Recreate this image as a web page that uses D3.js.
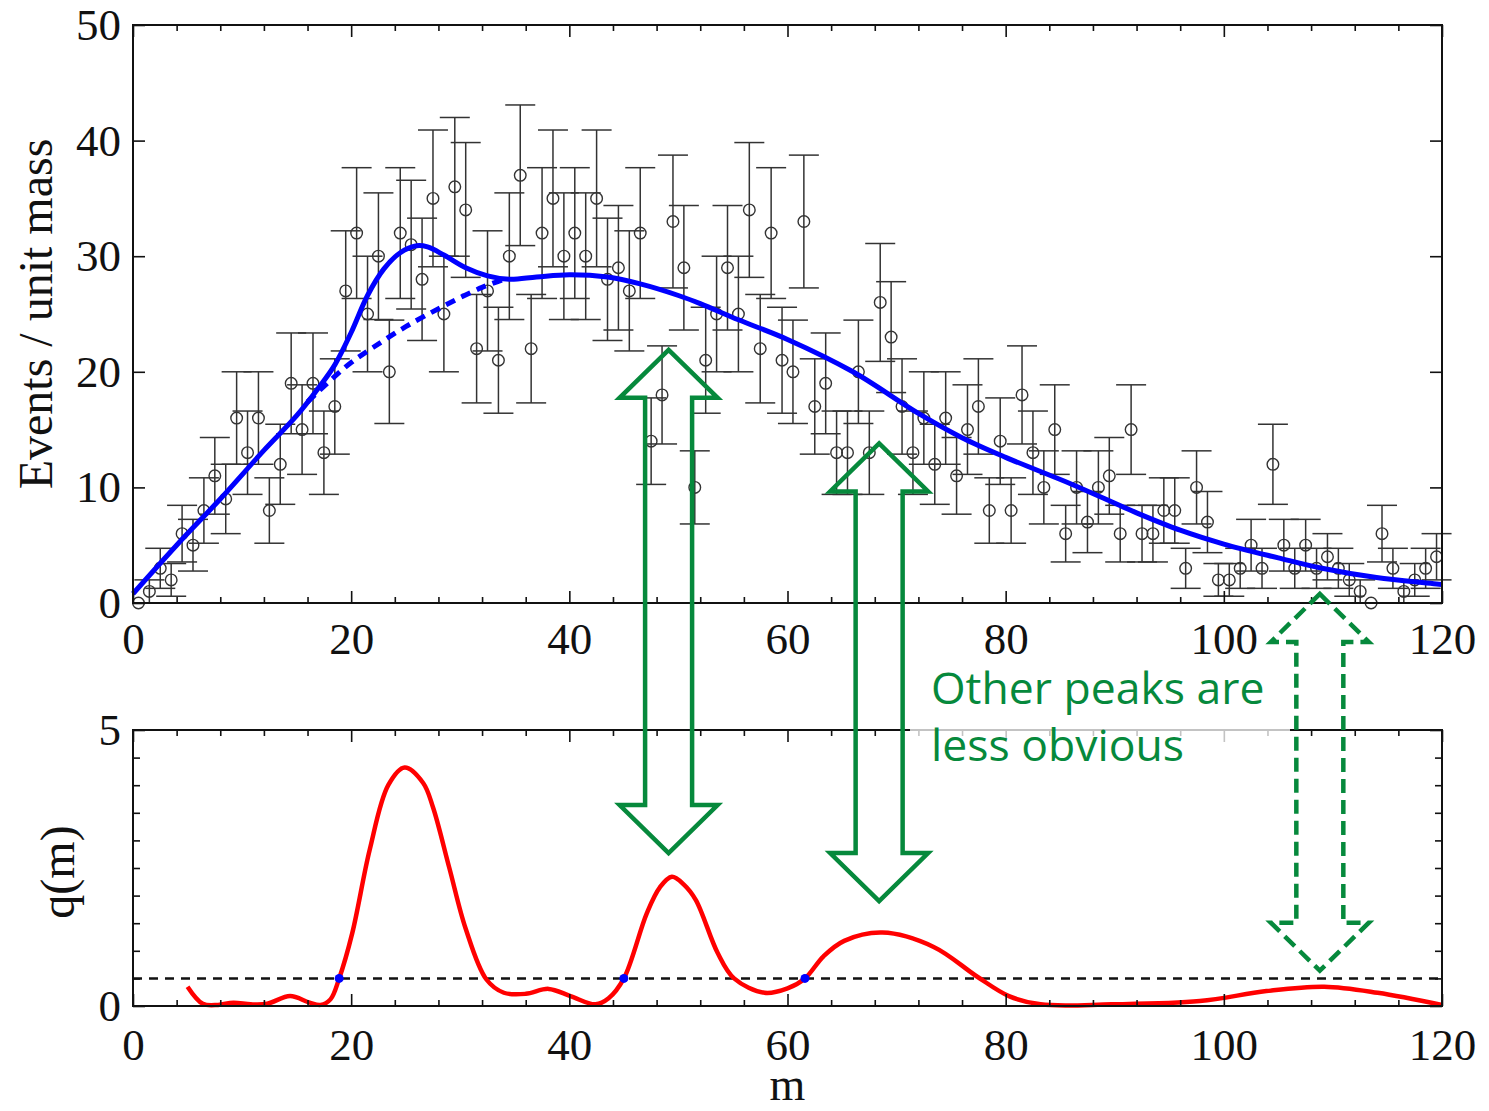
<!DOCTYPE html>
<html>
<head>
<meta charset="utf-8">
<script src="https://cdn.jsdelivr.net/npm/d3@7"></script>
<style>
  body { margin: 0; background: #fff; }
  svg { display: block; }
  .tick text { font-family: "Liberation Serif", "Times New Roman", serif; font-size: 45px; fill: #111; }
  .tick line { stroke: #111; stroke-width: 1.6; }
</style>
</head>
<body>
<div id="chart"></div>
<script>

// events per unit mass, one bin per unit of m (bins centred on m + 0.5)
var counts = [0, 1, 3, 2, 6, 5, 8, 11, 9, 16,
  13, 16, 8, 12, 19, 15, 19, 13, 17, 27,
  32, 25, 30, 20, 32, 31, 28, 35, 25, 36,
  34, 22, 27, 21, 30, 37, 22, 32, 35, 30,
  32, 30, 35, 28, 29, 27, 32, 14, 18, 33,
  29, 10, 21, 25, 29, 25, 34, 22, 32, 21,
  20, 33, 17, 19, 13, 13, 20, 13, 26, 23,
  17, 13, 16, 12, 16, 11, 15, 17, 8, 14,
  8, 18, 13, 10, 15, 6, 10, 7, 10, 11,
  6, 15, 6, 6, 8, 8, 3, 10, 7, 2,
  2, 3, 5, 3, 12, 5, 3, 5, 3, 4,
  3, 2, 1, 0, 6, 3, 1, 2, 3, 4];

// full fit (solid blue)
var fitMass = [0, 4, 8, 12, 15, 17, 18.5, 20, 21.5, 23, 24.5, 26, 27, 28.5, 30.5, 32.5, 34.5, 37, 40,
  43.5, 46.5, 50, 52, 55.5, 60, 66, 72, 76, 80, 86, 92, 96, 100, 105, 109, 114, 120];
var fitEvents = [0.8, 5.0, 9.0, 13.2, 16.2, 18.6, 20.6, 23.4, 26.6, 28.9, 30.3, 30.9, 30.8, 30.1, 29.0, 28.3, 28.0, 28.2, 28.4,
  28.2, 27.6, 26.6, 25.9, 24.5, 22.8, 20.0, 16.4, 14.3, 12.6, 10.3, 7.8, 6.3, 5.1, 3.9, 3.0, 2.2, 1.6];

// background only (dashed blue)
var bkgMass = [16, 17, 18.5, 20, 22, 25, 28.5, 32, 34];
var bkgEvents = [17.4, 18.3, 19.6, 20.8, 22.1, 23.9, 25.7, 27.3, 28.0];

// q(m) curve (red)
var qMass = [5, 6.4, 7.8, 9.2, 10.8, 12.3, 14.4, 16.2, 17.2, 18.1, 18.9, 20.1, 21.7, 23.4, 24.9, 26.6, 27.5, 29, 30.5, 32.4,
  34, 36, 38.1, 40.1, 42.4, 43.6, 45, 47.1, 48.3, 49.4, 50.5, 51.6, 53.6, 55.1, 57.9, 60, 61.6, 63.3, 65.2, 68.7, 73.4,
  77.4, 80.3, 83.2, 89.7, 97.8, 103.9, 109.2, 114.1, 120];
var qValues = [0.35, 0.04, 0.02, 0.06, 0.03, 0.04, 0.18, 0.06, 0.02, 0.12, 0.5, 1.32, 2.83, 4.0, 4.32, 4.04, 3.6, 2.5, 1.4, 0.48,
  0.24, 0.22, 0.31, 0.18, 0.03, 0.14, 0.5, 1.68, 2.15, 2.34, 2.2, 1.92, 0.96, 0.5, 0.24, 0.32, 0.5, 0.9, 1.18, 1.33, 1.07,
  0.53, 0.18, 0.03, 0.03, 0.09, 0.27, 0.35, 0.24, 0.02];
var qThreshold = 0.5;
var crossMass = [18.9, 45.0, 61.6];

// ticks
var massTicks = [0, 20, 40, 60, 80, 100, 120];
var eventTicks = [0, 10, 20, 30, 40, 50];
var qTicks = [0, 5];

// green arrows: centre mass, tip in upper panel (events), tip in lower panel (q)
var arrowMass = [49.1, 68.4, 108.8];
var arrowTopTip = [21.9, 13.8, 0.78];
var arrowLowTip = [2.77, 1.9, 0.64];
var arrowDashed = [false, false, true];
var noteLines = ["Other peaks are", "less obvious"];

var width = 1489, height = 1111;
var left = 133, right = 1442;
var upper = {top: 25, bottom: 603};
var lower = {top: 730, bottom: 1006};
var green = "#06893c";

var x = d3.scaleLinear().domain([0, 120]).range([left, right]);
var yUp = d3.scaleLinear().domain([0, 50]).range([upper.bottom, upper.top]);
var yLow = d3.scaleLinear().domain([0, 5]).range([lower.bottom, lower.top]);

var svg = d3.select("#chart").append("svg")
    .attr("width", width)
    .attr("height", height);

var minorMass = d3.range(0, 121, 4).filter(function(d) { return d % 20 != 0; });

function drawAxes(yScale, panel, yMajor, yMinor, labelPad) {
    var g = svg.append("g");

    // bottom edge, labelled
    g.append("g")
        .attr("transform", "translate(0," + panel.bottom + ")")
        .call(d3.axisBottom(x).tickValues(massTicks).tickSize(-12).tickSizeOuter(0)
            .tickPadding(labelPad).tickFormat(d3.format("d")));
    g.append("g")
        .attr("transform", "translate(0," + panel.bottom + ")")
        .call(d3.axisBottom(x).tickValues(minorMass).tickSize(-6).tickFormat(""));

    // top edge, ticks only
    g.append("g")
        .attr("transform", "translate(0," + panel.top + ")")
        .call(d3.axisTop(x).tickValues(massTicks).tickSize(-12).tickFormat(""));
    g.append("g")
        .attr("transform", "translate(0," + panel.top + ")")
        .call(d3.axisTop(x).tickValues(minorMass).tickSize(-6).tickFormat(""));

    // left and right edges
    g.append("g")
        .attr("transform", "translate(" + left + ",0)")
        .call(d3.axisLeft(yScale).tickValues(yMajor).tickSize(-12).tickPadding(12).tickFormat(d3.format("d")));
    g.append("g")
        .attr("transform", "translate(" + right + ",0)")
        .call(d3.axisRight(yScale).tickValues(yMajor).tickSize(-12).tickFormat(""));
    if (yMinor) {
        g.append("g")
            .attr("transform", "translate(" + left + ",0)")
            .call(d3.axisLeft(yScale).tickValues(yMinor).tickSize(-7).tickFormat(""));
        g.append("g")
            .attr("transform", "translate(" + right + ",0)")
            .call(d3.axisRight(yScale).tickValues(yMinor).tickSize(-7).tickFormat(""));
    }
    g.selectAll(".domain").remove();

    svg.append("rect")
        .attr("x", left)
        .attr("y", panel.top)
        .attr("width", right - left)
        .attr("height", panel.bottom - panel.top)
        .attr("fill", "none")
        .attr("stroke", "#111")
        .attr("stroke-width", 2);
}

// ---------- upper panel ----------
var bins = counts.map(function(n, i) { return {m: i + 0.5, n: n}; });

var points = svg.append("g").attr("class", "points");
var withErr = points.selectAll("g.err")
    .data(bins.filter(function(d) { return d.n > 0; }))
  .enter().append("g")
    .attr("class", "err")
    .attr("stroke", "#333")
    .attr("stroke-width", 1.5);

withErr.append("line")
    .attr("x1", function(d) { return x(d.m); })
    .attr("x2", function(d) { return x(d.m); })
    .attr("y1", function(d) { return yUp(d.n - Math.sqrt(d.n)); })
    .attr("y2", function(d) { return yUp(d.n + Math.sqrt(d.n)); });
withErr.append("line")
    .attr("x1", function(d) { return x(d.m) - 15; })
    .attr("x2", function(d) { return x(d.m) + 15; })
    .attr("y1", function(d) { return yUp(d.n + Math.sqrt(d.n)); })
    .attr("y2", function(d) { return yUp(d.n + Math.sqrt(d.n)); });
withErr.append("line")
    .attr("x1", function(d) { return x(d.m) - 15; })
    .attr("x2", function(d) { return x(d.m) + 15; })
    .attr("y1", function(d) { return yUp(d.n - Math.sqrt(d.n)); })
    .attr("y2", function(d) { return yUp(d.n - Math.sqrt(d.n)); });

points.selectAll("circle")
    .data(bins)
  .enter().append("circle")
    .attr("cx", function(d) { return x(d.m); })
    .attr("cy", function(d) { return yUp(d.n); })
    .attr("r", 5.8)
    .attr("fill", "none")
    .attr("stroke", "#333")
    .attr("stroke-width", 1.4);

var upLine = d3.line()
    .x(function(d) { return x(d[0]); })
    .y(function(d) { return yUp(d[1]); })
    .curve(d3.curveCatmullRom.alpha(0.5));

svg.append("path")
    .attr("d", upLine(d3.zip(bkgMass, bkgEvents)))
    .attr("fill", "none")
    .attr("stroke", "#0000ff")
    .attr("stroke-width", 5)
    .attr("stroke-dasharray", "10,7");

svg.append("path")
    .attr("d", upLine(d3.zip(fitMass, fitEvents)))
    .attr("fill", "none")
    .attr("stroke", "#0000ff")
    .attr("stroke-width", 5);

drawAxes(yUp, upper, eventTicks, null, 19);

svg.append("text")
    .attr("transform", "translate(52," + ((upper.top + upper.bottom) / 2) + ") rotate(-90)")
    .attr("text-anchor", "middle")
    .style("font-family", "'Liberation Serif', serif")
    .style("font-size", "48px")
    .attr("fill", "#111")
    .text("Events / unit mass");

// ---------- lower panel ----------
svg.append("line")
    .attr("x1", left)
    .attr("x2", right)
    .attr("y1", yLow(qThreshold))
    .attr("y2", yLow(qThreshold))
    .attr("stroke", "#111")
    .attr("stroke-width", 2.5)
    .attr("stroke-dasharray", "9,7");

var lowLine = d3.line()
    .x(function(d) { return x(d[0]); })
    .y(function(d) { return yLow(d[1]); })
    .curve(d3.curveCatmullRom.alpha(0.5));

svg.append("path")
    .attr("d", lowLine(d3.zip(qMass, qValues)))
    .attr("fill", "none")
    .attr("stroke", "#ff0000")
    .attr("stroke-width", 4.5);

svg.selectAll("circle.cross")
    .data(crossMass)
  .enter().append("circle")
    .attr("class", "cross")
    .attr("cx", function(d) { return x(d); })
    .attr("cy", yLow(qThreshold))
    .attr("r", 4.5)
    .attr("fill", "#0000ff");

drawAxes(yLow, lower, qTicks, d3.range(0.5, 5, 0.5), 22);

svg.append("text")
    .attr("transform", "translate(74," + ((lower.top + lower.bottom) / 2 + 4) + ") rotate(-90)")
    .attr("text-anchor", "middle")
    .style("font-family", "'Liberation Serif', serif")
    .style("font-size", "48px")
    .attr("fill", "#111")
    .text("q(m)");

svg.append("text")
    .attr("x", x(60))
    .attr("y", 1100)
    .attr("text-anchor", "middle")
    .style("font-family", "'Liberation Serif', serif")
    .style("font-size", "46px")
    .attr("fill", "#111")
    .text("m");

// ---------- annotations ----------
function arrowPath(cx, tipA, tipB, shaft, head, headLen) {
    return "M" + cx + "," + tipA +
        "L" + (cx + head) + "," + (tipA + headLen) +
        "L" + (cx + shaft) + "," + (tipA + headLen) +
        "L" + (cx + shaft) + "," + (tipB - headLen) +
        "L" + (cx + head) + "," + (tipB - headLen) +
        "L" + cx + "," + tipB +
        "L" + (cx - head) + "," + (tipB - headLen) +
        "L" + (cx - shaft) + "," + (tipB - headLen) +
        "L" + (cx - shaft) + "," + (tipA + headLen) +
        "L" + (cx - head) + "," + (tipA + headLen) + "Z";
}

// faded box behind the note
svg.append("rect")
    .attr("x", 910)
    .attr("y", 666)
    .attr("width", 380)
    .attr("height", 104)
    .attr("fill", "#fff")
    .attr("opacity", 0.75);

svg.selectAll("text.note")
    .data(noteLines)
  .enter().append("text")
    .attr("class", "note")
    .attr("x", 931)
    .attr("y", function(d, i) { return 704 + i * 57; })
    .style("font-family", "'Open Sans', 'Noto Sans', sans-serif")
    .style("font-size", "44.5px")
    .attr("fill", green)
    .text(function(d) { return d; });

svg.selectAll("path.arrow")
    .data(arrowMass)
  .enter().append("path")
    .attr("class", "arrow")
    .attr("d", function(d, i) {
        return arrowPath(x(d), yUp(arrowTopTip[i]), yLow(arrowLowTip[i]), 23.5, 49, 48);
    })
    .attr("fill", "none")
    .attr("stroke", green)
    .attr("stroke-width", 4.5)
    .attr("stroke-linejoin", "miter")
    .attr("stroke-dasharray", function(d, i) { return arrowDashed[i] ? "14,7" : null; });

</script>
</body>
</html>
